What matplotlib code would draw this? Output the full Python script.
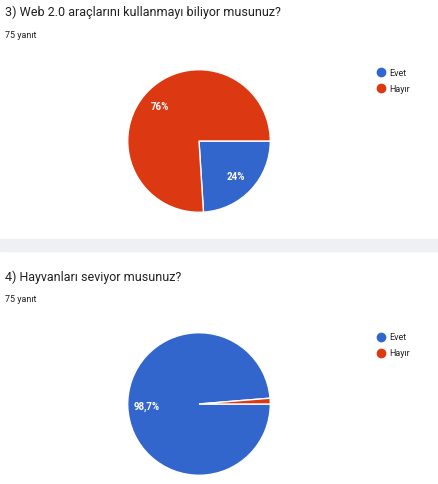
import matplotlib.pyplot as plt
from matplotlib.patches import Rectangle

labels = ['Evet', 'Hayır']
colors = ['#3366cc', '#dc3912']
q1_title = '3) Web 2.0 araçlarını kullanmayı biliyor musunuz?'
q1_values = [24, 76]
q1_texts = ['24%', '76%']
q2_title = '4) Hayvanları seviyor musunuz?'
q2_values = [98.7, 1.3]
q2_texts = ['98,7%', '']
W, H = 438, 485

fig = plt.figure(figsize=(W / 100, H / 100), dpi=100)
plt.rcParams['font.family'] = ['Roboto', 'DejaVu Sans']


def fx(x):
    return x / W


def fy(y):
    return 1 - y / H


fig.patches.append(Rectangle((0, fy(252)), 1, 12 / H, transform=fig.transFigure,
                             color='#eef0f3', zorder=0))


def draw(values, texts, title, top, cy, label_pos):
    fig.text(fx(5), fy(top), title, fontsize=9, color='#202124', va='center')
    fig.text(fx(5), fy(top + 23), '75 yanıt', fontsize=6.5, color='#202124', va='center')
    r = 72
    ax = fig.add_axes([fx(199 - r), fy(cy + r), 2 * r / W, 2 * r / H])
    ax.pie(values, colors=colors, startangle=0, counterclock=False,
           wedgeprops=dict(edgecolor='white', linewidth=1))
    ax.set_aspect('auto')
    ax.set_xlim(-1.01, 1.01)
    ax.set_ylim(-1.01, 1.01)
    for t, (x, y) in zip(texts, label_pos):
        if t:
            fig.text(fx(x), fy(y), t, fontsize=7, color='white', ha='center',
                     va='center', fontweight='bold', zorder=10)
    for i, lab in enumerate(labels):
        ly = top + 61 + i * 16
        fig.lines.append(plt.Line2D([fx(381)], [fy(ly)], marker='o', markersize=6,
                                    color=colors[i], transform=fig.transFigure))
        fig.text(fx(389), fy(ly), lab, fontsize=6.5, color='#222222', va='center')


draw(q1_values, q1_texts, q1_title, 12, 142, [(236, 177), (160, 107)])
draw(q2_values, q2_texts, q2_title, 277, 405, [(147, 407), (0, 0)])

fig.savefig('out.png', dpi=100, facecolor='white')
